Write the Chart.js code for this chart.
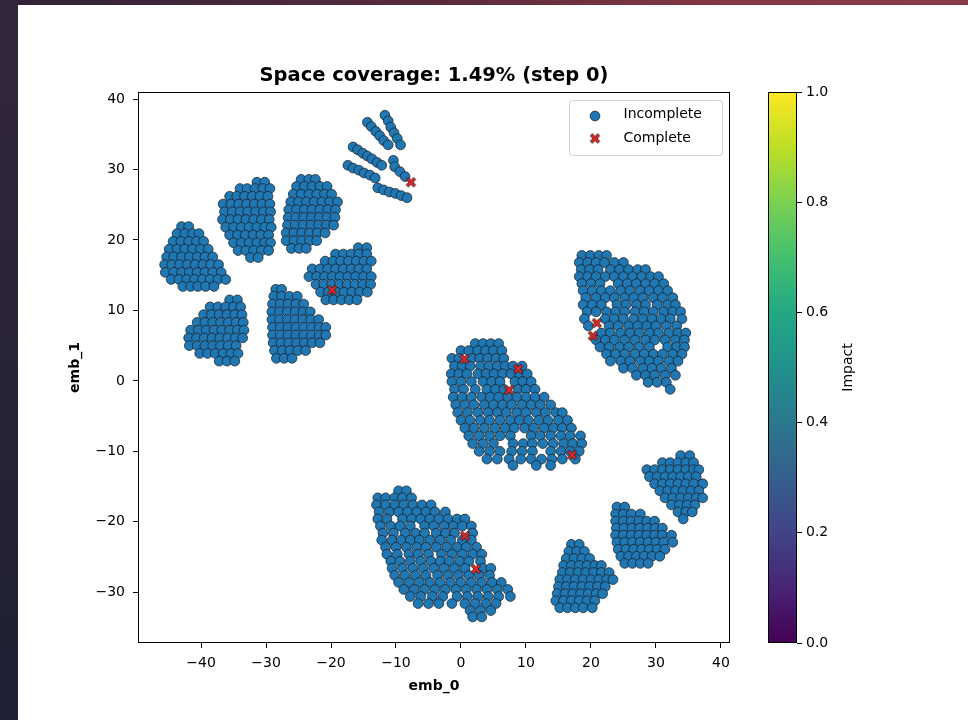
<!DOCTYPE html>
<html>
<head>
<meta charset="utf-8">
<script src="https://cdn.jsdelivr.net/npm/chart.js@4.4.1/dist/chart.umd.min.js"></script>
<style>
  html, body { margin: 0; padding: 0; background: #fff; }
  #page { position: relative; width: 968px; height: 720px; overflow: hidden; background: #fff; }
  #topbar { position: absolute; left: 0; top: 0; width: 968px; height: 5px;
    background: linear-gradient(to right, #2e2337, #5a2b3d 45%, #843744 75%, #8a3a47); }
  #leftbar { position: absolute; left: 0; top: 0; width: 18px; height: 720px;
    background: linear-gradient(to bottom, #33263a, #1e2033); }
  #main { position: absolute; left: 0; top: 0; }
  #cbar { position: absolute; left: 740px; top: 0; }
</style>
</head>
<body>
<div id="page">
  <canvas id="main" width="968" height="720"></canvas>
  <canvas id="cbar" width="228" height="720"></canvas>
  <div id="topbar"></div>
  <div id="leftbar"></div>
</div>
<script>
// --- data (emb_0, emb_1) ---
// clusters given as rows: [emb_1, [emb_0 values ...]]
const clusterA = [
  [21.9, [-43.0, -41.9]],
  [20.9, [-43.7, -42.5, -41.3, -40.3]],
  [19.8, [-44.3, -43.1, -41.9, -40.7, -39.6]],
  [18.7, [-44.9, -43.7, -42.5, -41.3, -40.1, -38.9]],
  [17.6, [-45.3, -44.2, -43.0, -41.8, -40.6, -39.4, -38.2]],
  [16.5, [-45.6, -44.5, -43.3, -42.1, -40.9, -39.7, -38.5, -37.3]],
  [15.4, [-45.5, -44.2, -43.0, -41.8, -40.6, -39.4, -38.2, -36.9]],
  [14.4, [-44.6, -43.4, -42.2, -41.0, -39.8, -38.6, -37.4, -36.2]],
  [13.4, [-42.8, -41.6, -40.5, -39.3, -38.0]],
];
const clusterB = [
  [28.2, [-31.4, -30.2]],
  [27.3, [-34.0, -32.9, -31.7, -30.5, -29.4]],
  [26.2, [-35.6, -34.5, -33.3, -32.1, -30.9, -29.7]],
  [25.1, [-36.6, -35.4, -34.2, -33.0, -31.8, -30.6, -29.4]],
  [24.0, [-36.4, -35.2, -34.0, -32.8, -31.6, -30.4, -29.3]],
  [22.9, [-36.7, -35.5, -34.3, -33.1, -31.9, -30.7, -29.5]],
  [21.8, [-36.2, -35.0, -33.8, -32.6, -31.4, -30.2, -29.2]],
  [20.7, [-35.6, -34.4, -33.2, -32.0, -30.8, -29.6]],
  [19.6, [-35.0, -33.8, -32.6, -31.4, -30.2, -29.3]],
  [18.5, [-34.3, -33.1, -31.9, -30.7, -29.6]],
  [17.5, [-32.4, -31.2]],
];
const clusterC = [
  [28.6, [-24.6, -23.4, -22.4]],
  [27.6, [-25.3, -24.1, -22.9, -21.7, -20.6]],
  [26.5, [-25.8, -24.6, -23.4, -22.2, -21.0, -19.9]],
  [25.4, [-26.2, -25.0, -23.8, -22.6, -21.4, -20.2, -19.0]],
  [24.3, [-26.5, -25.3, -24.1, -22.9, -21.7, -20.5, -19.3]],
  [23.2, [-26.6, -25.4, -24.2, -23.0, -21.8, -20.6, -19.4]],
  [22.1, [-26.7, -25.5, -24.3, -23.1, -21.9, -20.7, -19.6]],
  [21.0, [-26.9, -25.7, -24.5, -23.3, -22.1, -20.9]],
  [19.9, [-26.9, -25.7, -24.5, -23.3, -22.2]],
  [18.8, [-26.1, -24.9, -23.8]],
];
const clusterE = [
  [18.9, [-15.8, -14.5]],
  [18.0, [-19.3, -18.1, -16.9, -15.7, -14.5]],
  [17.0, [-20.9, -19.7, -18.5, -17.3, -16.1, -14.9, -13.8]],
  [15.9, [-22.9, -21.7, -20.5, -19.3, -18.1, -16.9, -15.7, -14.5]],
  [14.8, [-23.4, -22.2, -21.0, -19.8, -18.6, -17.4, -16.2, -15.0, -13.8]],
  [13.7, [-22.3, -21.1, -19.9, -18.7, -17.5, -16.3, -15.1, -13.9]],
  [12.6, [-21.6, -20.4, -19.2, -18.0, -16.8, -15.6, -14.4]],
  [11.5, [-20.8, -19.6, -18.4, -17.2, -16.0]],
];
const clusterF = [
  [11.5, [-35.6, -34.4]],
  [10.5, [-38.6, -37.4, -36.2, -35.0, -33.9]],
  [9.4, [-39.6, -38.4, -37.2, -36.0, -34.8, -33.7]],
  [8.3, [-40.6, -39.4, -38.2, -37.0, -35.8, -34.6, -33.5]],
  [7.2, [-41.6, -40.4, -39.2, -38.0, -36.8, -35.6, -34.4, -33.4]],
  [6.1, [-41.9, -40.7, -39.5, -38.3, -37.1, -35.9, -34.7, -33.6]],
  [5.0, [-41.8, -40.6, -39.4, -38.2, -37.0, -35.8, -34.6]],
  [3.9, [-40.2, -39.0, -37.8, -36.6, -35.4, -34.3]],
  [2.8, [-37.2, -36.0, -34.8]],
];
const clusterG = [
  [13.0, [-28.5, -27.6]],
  [12.0, [-28.8, -27.6, -26.4, -25.2]],
  [10.9, [-29.0, -27.8, -26.6, -25.4, -24.2]],
  [9.8, [-29.1, -27.9, -26.7, -25.5, -24.3, -23.2]],
  [8.7, [-29.1, -27.9, -26.7, -25.5, -24.3, -23.1, -21.9]],
  [7.6, [-29.0, -27.8, -26.6, -25.4, -24.2, -23.0, -21.8, -20.8]],
  [6.5, [-29.0, -27.8, -26.6, -25.4, -24.2, -23.0, -21.8, -20.8]],
  [5.4, [-28.9, -27.7, -26.5, -25.3, -24.1, -22.9, -21.7]],
  [4.3, [-28.7, -27.5, -26.3, -25.1, -23.9]],
  [3.2, [-28.4, -27.2, -26.0]],
];
const clusterH = [
  [5.3, [2.2, 3.4, 4.6, 5.8]],
  [4.3, [0.0, 1.2, 2.6, 3.8, 5.0, 6.3]],
  [3.2, [-1.4, -0.3, 1.7, 2.9, 4.1, 5.4, 6.6]],
  [2.1, [-1.0, 0.2, 1.4, 3.0, 4.3, 5.6, 6.8, 8.0, 9.4]],
  [1.0, [-1.5, -0.3, 0.9, 2.6, 3.9, 5.1, 6.4, 7.7, 9.0, 10.2]],
  [-0.1, [-1.4, 0.0, 1.6, 3.4, 4.7, 6.0, 8.3, 9.5, 10.8]],
  [-1.2, [-1.0, 0.4, 2.2, 4.0, 5.3, 6.6, 8.8, 10.0, 11.4]],
  [-2.3, [-1.2, 0.2, 1.6, 3.2, 4.5, 5.8, 7.2, 8.6, 10.0, 11.4, 12.8]],
  [-3.4, [-0.8, 0.6, 2.0, 3.6, 5.0, 6.4, 7.8, 9.4, 10.8, 12.2, 13.8]],
  [-4.5, [-0.5, 1.0, 2.6, 4.2, 5.6, 7.0, 8.6, 10.0, 11.6, 13.0, 14.6, 15.6]],
  [-5.6, [0.0, 1.4, 3.0, 4.4, 6.0, 7.6, 9.0, 10.4, 12.0, 13.4, 15.0, 16.4]],
  [-6.7, [0.6, 2.0, 3.6, 5.2, 6.8, 8.2, 9.8, 11.2, 12.8, 14.2, 15.6, 17.0]],
  [-7.8, [1.2, 2.8, 4.4, 6.0, 7.6, 10.8, 12.2, 13.8, 15.4, 16.8, 18.4]],
  [-8.9, [1.8, 3.4, 5.0, 8.0, 9.6, 11.0, 12.6, 14.2, 15.8, 17.2, 18.6]],
  [-10.0, [2.8, 4.4, 6.0, 7.8, 9.4, 11.0, 13.8, 15.4, 16.8, 18.2]],
  [-11.1, [4.0, 5.6, 7.4, 9.2, 10.8, 12.4, 14.0, 15.6, 17.6]],
  [-12.0, [8.0, 11.6, 13.8]],
];
const clusterI = [
  [17.8, [18.6, 19.9, 21.2, 22.4]],
  [16.8, [18.2, 19.5, 20.8, 22.1, 23.6, 25.0]],
  [15.8, [18.5, 19.8, 21.1, 23.0, 24.4, 25.8, 27.2, 28.4]],
  [14.8, [18.2, 19.5, 20.8, 22.2, 23.6, 25.0, 26.4, 27.8, 29.2, 30.4]],
  [13.8, [18.6, 20.0, 21.4, 24.2, 25.6, 27.0, 28.4, 29.8, 31.2]],
  [12.8, [18.8, 20.2, 21.6, 23.0, 24.6, 26.0, 27.6, 29.0, 30.4, 31.8]],
  [11.8, [19.2, 20.8, 22.2, 23.6, 25.2, 26.6, 28.0, 29.6, 31.0, 32.6]],
  [10.8, [18.8, 20.2, 21.6, 24.0, 25.4, 27.0, 28.4, 30.2, 31.8, 33.0]],
  [9.8, [19.4, 20.8, 22.4, 23.8, 25.2, 26.8, 28.2, 29.6, 31.2, 32.6, 33.8]],
  [8.8, [19.0, 22.2, 23.6, 25.0, 26.6, 28.0, 29.4, 30.8, 32.2, 34.0]],
  [7.8, [19.6, 22.8, 24.2, 25.8, 27.2, 28.6, 30.0, 31.6, 33.2]],
  [6.8, [21.6, 23.0, 24.6, 26.0, 27.4, 29.0, 30.4, 32.0, 33.4, 34.6]],
  [5.8, [20.8, 22.2, 23.6, 25.2, 26.8, 28.4, 29.8, 31.4, 33.0, 34.4]],
  [4.8, [21.4, 22.8, 24.4, 25.8, 27.4, 29.0, 31.8, 33.2, 34.4]],
  [3.8, [22.4, 23.8, 25.2, 26.8, 28.2, 29.6, 31.0, 32.6, 34.0]],
  [2.8, [23.0, 24.6, 26.0, 27.6, 29.0, 30.4, 32.0, 33.4]],
  [1.8, [25.0, 26.4, 28.0, 29.4, 30.8, 32.4]],
  [0.8, [27.0, 28.4, 29.8, 31.4, 33.0]],
  [-0.2, [28.8, 30.2, 31.6]],
  [-1.2, [32.2]],
];
const clusterJ = [
  [-15.6, [-9.6, -8.4]],
  [-16.6, [-12.8, -11.6, -10.2, -9.0, -7.6]],
  [-17.6, [-13.0, -11.6, -10.2, -8.8, -7.4, -6.0, -4.6]],
  [-18.6, [-12.6, -11.0, -9.6, -8.2, -6.8, -5.4, -4.0, -2.4]],
  [-19.6, [-12.8, -11.4, -9.0, -7.6, -6.2, -4.8, -3.4, -2.0, -0.6, 0.6]],
  [-20.6, [-12.4, -10.8, -9.4, -7.8, -5.6, -4.2, -2.6, -1.2, 0.2, 1.6]],
  [-21.6, [-12.0, -10.4, -8.6, -7.0, -5.6, -3.8, -2.4, -1.0, 1.8]],
  [-22.6, [-12.2, -10.6, -9.2, -7.8, -6.4, -4.8, -3.2, -1.6, 0.2, 1.6]],
  [-23.6, [-11.6, -10.0, -8.4, -6.8, -5.4, -3.8, -2.2, -0.6, 0.8, 2.4]],
  [-24.6, [-11.4, -9.8, -8.0, -6.6, -5.0, -3.0, -1.4, 0.2, 1.8, 3.2]],
  [-25.6, [-10.8, -9.4, -7.8, -6.2, -4.6, -3.2, -1.8, -0.2, 1.2, 3.0]],
  [-26.6, [-10.6, -9.0, -7.4, -5.8, -4.2, -2.6, -1.0, 0.6, 3.4, 4.6]],
  [-27.6, [-10.2, -8.6, -7.0, -5.4, -3.6, -2.0, -0.4, 1.2, 2.8, 4.4]],
  [-28.6, [-9.6, -8.0, -6.4, -4.8, -3.2, -1.6, 0.0, 1.6, 3.2, 4.8, 6.2]],
  [-29.6, [-8.8, -7.2, -5.6, -4.0, -2.4, -0.8, 0.8, 2.4, 4.0, 5.6, 7.2]],
  [-30.6, [-7.8, -6.2, -4.4, -2.8, -0.6, 1.0, 2.6, 4.2, 5.8, 7.6]],
  [-31.6, [-6.6, -5.0, -3.4, -1.4, 0.6, 2.2, 3.8, 5.4]],
  [-32.6, [1.4, 3.0, 4.6]],
  [-33.5, [1.8, 3.2]],
];
const clusterK = [
  [-23.2, [17.0, 18.2]],
  [-24.2, [16.6, 17.8, 19.0]],
  [-25.2, [16.2, 17.4, 18.6, 19.8]],
  [-26.2, [15.8, 17.0, 18.2, 19.4, 20.6, 21.6]],
  [-27.2, [15.6, 16.8, 18.0, 19.2, 20.4, 21.6, 22.8]],
  [-28.2, [15.2, 16.4, 17.6, 18.8, 20.0, 21.2, 22.4, 23.4]],
  [-29.2, [15.0, 16.2, 17.4, 18.6, 19.8, 21.0, 22.2]],
  [-30.2, [14.8, 16.0, 17.2, 18.4, 19.6, 20.8, 21.8]],
  [-31.2, [14.6, 15.8, 17.0, 18.2, 19.4, 20.6]],
  [-32.2, [15.2, 16.4, 17.6, 18.8, 20.2]],
];
const clusterL = [
  [-17.9, [24.0, 25.2]],
  [-18.9, [23.8, 25.0, 26.2, 27.6]],
  [-19.9, [23.8, 25.0, 26.2, 27.4, 28.6, 29.8]],
  [-20.9, [23.9, 25.1, 26.3, 27.5, 28.7, 29.9, 31.0]],
  [-21.9, [23.8, 25.0, 26.2, 27.4, 28.6, 29.8, 31.0, 32.4]],
  [-22.9, [24.0, 25.2, 26.4, 27.6, 28.8, 30.0, 31.2, 32.6]],
  [-23.9, [24.2, 25.4, 26.6, 27.8, 29.0, 30.2, 31.4]],
  [-24.9, [24.6, 25.8, 27.0, 28.2, 29.4, 30.6]],
  [-25.9, [25.2, 26.4, 27.6, 28.8]],
];
const clusterM = [
  [-10.6, [33.8, 35.2]],
  [-11.6, [31.0, 32.2, 33.4, 34.6, 35.8]],
  [-12.6, [28.6, 29.8, 31.0, 32.2, 33.4, 34.6, 35.8, 36.6]],
  [-13.6, [29.0, 30.2, 31.4, 32.6, 33.8, 35.0, 36.2]],
  [-14.6, [29.8, 31.0, 32.2, 33.4, 34.6, 35.8, 37.2]],
  [-15.6, [30.6, 31.8, 33.0, 34.2, 35.4, 36.6]],
  [-16.6, [31.4, 32.6, 33.8, 35.0, 36.2, 37.2]],
  [-17.6, [32.4, 33.6, 34.8, 36.0]],
  [-18.6, [33.4, 34.6, 35.6]],
  [-19.6, [34.2]],
];
// the thin streaks near the top, as [emb_0, emb_1]
const streaks = [
  [-11.7, 37.7], [-11.2, 36.9], [-10.8, 36.0], [-10.3, 35.2], [-9.8, 34.4], [-9.3, 33.5],
  [-14.4, 36.7], [-13.8, 36.1], [-13.1, 35.4], [-12.5, 34.8], [-11.9, 34.1], [-11.2, 33.5],
  [-16.6, 33.2], [-15.9, 32.8], [-15.1, 32.3], [-14.4, 31.9], [-13.7, 31.5], [-12.9, 31.0], [-12.2, 30.6],
  [-17.4, 30.6], [-16.6, 30.2], [-15.7, 29.9], [-14.9, 29.5], [-14.0, 29.2], [-13.2, 28.8],
  [-12.8, 27.4], [-11.9, 27.1], [-11.0, 26.8], [-10.1, 26.6], [-9.2, 26.3], [-8.3, 26.0],
  [-10.4, 31.3], [-10.2, 30.4], [-9.4, 29.7], [-8.6, 29.0],
];
const completePoints = [
  [-7.7, 28.2], [-19.8, 12.9], [0.5, 3.1], [8.8, 1.7], [7.4, -1.3],
  [17.1, -10.5], [20.9, 8.2], [20.3, 6.4], [0.6, -22.0], [2.3, -26.7],
];

const xTickValues = [-40, -30, -20, -10, 0, 10, 20, 30, 40];
const yTickValues = [-30, -20, -10, 0, 10, 20, 30, 40];
const impactTicks = [0, 0.2, 0.4, 0.6, 0.8, 1.0];
const viridisStops = ["#440154", "#482475", "#414487", "#355f8d", "#2a788e",
  "#21918c", "#22a884", "#44bf70", "#7ad151", "#bddf26", "#fde725"];

const FONT = "DejaVu Sans";
const BLUE = "#1f77b4";
const RED = "#d62728";
const EDGE = "#1a1a1a";

const rowsToPoints = (rows) => rows.flatMap(([y, xs]) => xs.map((x) => ({ x, y })));
const incomplete = [
  clusterA, clusterB, clusterC, clusterE, clusterF, clusterG,
  clusterH, clusterI, clusterJ, clusterK, clusterL, clusterM,
].flatMap(rowsToPoints).concat(streaks.map(([x, y]) => ({ x, y })));
const complete = completePoints.map(([x, y]) => ({ x, y }));

const minus = (v) => String(v).replace("-", "\u2212");

// filled "X" marker like matplotlib's
function makeXMarker() {
  const c = document.createElement("canvas");
  c.width = 14;
  c.height = 14;
  const g = c.getContext("2d");
  const e = 5.3, w = 1.55;
  g.translate(7, 7);
  g.rotate(Math.PI / 4);
  g.beginPath();
  const pts = [[w, e], [w, w], [e, w], [e, -w], [w, -w], [w, -e],
    [-w, -e], [-w, -w], [-e, -w], [-e, w], [-w, w], [-w, e]];
  pts.forEach(([px, py], i) => (i ? g.lineTo(px, py) : g.moveTo(px, py)));
  g.closePath();
  g.fillStyle = RED;
  g.fill();
  g.lineWidth = 0.7;
  g.strokeStyle = EDGE;
  g.stroke();
  return c;
}
const xMarker = makeXMarker();

const framePlugin = {
  id: "frame",
  afterDraw(chart) {
    const { ctx, chartArea: a } = chart;
    ctx.save();
    ctx.strokeStyle = "#000";
    ctx.lineWidth = 1;
    ctx.strokeRect(Math.round(a.left) + 0.5, Math.round(a.top) + 0.5,
      Math.round(a.right - a.left) - 1, Math.round(a.bottom - a.top) - 1);
    ctx.restore();
  },
};

const legendPlugin = {
  id: "boxLegend",
  afterDraw(chart) {
    const { ctx, chartArea: a } = chart;
    const w = 153, h = 55;
    const x0 = a.right - 7.5 - w, y0 = a.top + 8.5;
    ctx.save();
    ctx.beginPath();
    ctx.roundRect(x0, y0, w, h, 3);
    ctx.fillStyle = "rgba(255,255,255,0.8)";
    ctx.fill();
    ctx.strokeStyle = "#d0d0d0";
    ctx.lineWidth = 1;
    ctx.stroke();
    const mx = x0 + 25.5;
    ctx.beginPath();
    ctx.arc(mx, y0 + 15.5, 4.9, 0, Math.PI * 2);
    ctx.fillStyle = BLUE;
    ctx.fill();
    ctx.lineWidth = 0.7;
    ctx.strokeStyle = EDGE;
    ctx.stroke();
    ctx.drawImage(xMarker, mx - 7, y0 + 38 - 7);
    ctx.fillStyle = "#000";
    ctx.font = "14px '" + FONT + "'";
    ctx.textBaseline = "middle";
    ctx.fillText("Incomplete", x0 + 54, y0 + 14);
    ctx.fillText("Complete", x0 + 54, y0 + 38);
    ctx.restore();
  },
};

const tickFont = { family: FONT, size: 14 };
const labelFont = { family: FONT, size: 14, weight: "bold" };
const axisGrid = {
  display: true, drawOnChartArea: false, drawTicks: true,
  tickLength: 5, color: "#000", tickColor: "#000", tickWidth: 1,
};

new Chart(document.getElementById("main"), {
  type: "scatter",
  data: {
    datasets: [
      {
        label: "Complete",
        data: complete,
        order: 0,
        pointStyle: xMarker,
        pointRadius: 5,
      },
      {
        label: "Incomplete",
        data: incomplete,
        order: 1,
        pointStyle: "circle",
        pointRadius: 4.9,
        backgroundColor: BLUE,
        borderColor: EDGE,
        borderWidth: 0.7,
      },
    ],
  },
  options: {
    responsive: false,
    animation: false,
    devicePixelRatio: 1,
    layout: { padding: { left: 50, top: 50, right: 238, bottom: 20 } },
    scales: {
      x: {
        type: "linear",
        min: -49.7,
        max: 41.4,
        afterBuildTicks: (s) => { s.ticks = xTickValues.map((v) => ({ value: v })); },
        afterFit: (s) => { s.height = 57; },
        grid: axisGrid,
        border: { display: false },
        ticks: { color: "#000", font: tickFont, padding: 7, maxRotation: 0, autoSkip: false,
          callback: (v) => minus(v) },
        title: { display: true, text: "emb_0", color: "#000", font: labelFont,
          padding: { top: 0, bottom: 5 } },
      },
      y: {
        type: "linear",
        min: -37.2,
        max: 41.0,
        afterBuildTicks: (s) => { s.ticks = yTickValues.map((v) => ({ value: v })); },
        afterFit: (s) => { s.width = 88; },
        grid: axisGrid,
        border: { display: false },
        ticks: { color: "#000", font: tickFont, padding: 8, autoSkip: false,
          callback: (v) => minus(v) },
        title: { display: true, text: "emb_1", color: "#000", font: labelFont,
          padding: { top: 17, bottom: 0 } },
      },
    },
    plugins: {
      legend: { display: false },
      tooltip: { enabled: false },
      title: {
        display: true,
        fullSize: false,
        text: "Space coverage: 1.49% (step 0)",
        color: "#000",
        font: { family: FONT, size: 19.5, weight: "bold" },
        padding: { top: 14.4, bottom: 4.2 },
      },
    },
  },
  plugins: [framePlugin, legendPlugin],
});

// colorbar
const cbarFrame = {
  id: "cbarFrame",
  afterDraw(chart) {
    const { ctx, chartArea: a } = chart;
    ctx.save();
    ctx.strokeStyle = "#000";
    ctx.lineWidth = 1;
    ctx.strokeRect(Math.round(a.left) + 0.5, Math.round(a.top) + 0.5,
      Math.round(a.right - a.left) - 1, Math.round(a.bottom - a.top) - 1);
    ctx.translate(a.right + 51, (a.top + a.bottom) / 2);
    ctx.rotate(-Math.PI / 2);
    ctx.fillStyle = "#000";
    ctx.font = "14px '" + FONT + "'";
    ctx.textAlign = "center";
    ctx.textBaseline = "middle";
    ctx.fillText("Impact", 0, 0);
    ctx.restore();
  },
};

new Chart(document.getElementById("cbar"), {
  type: "bar",
  data: {
    labels: ["Impact"],
    datasets: [
      {
        data: [1],
        borderWidth: 0,
        barPercentage: 1,
        categoryPercentage: 1,
        backgroundColor: (context) => {
          const { ctx, chartArea } = context.chart;
          if (!chartArea) return viridisStops[5];
          const grad = ctx.createLinearGradient(0, chartArea.bottom, 0, chartArea.top);
          viridisStops.forEach((c, i) => grad.addColorStop(i / (viridisStops.length - 1), c));
          return grad;
        },
      },
    ],
  },
  options: {
    responsive: false,
    animation: false,
    devicePixelRatio: 1,
    layout: { padding: { left: 28, top: 92, right: 91, bottom: 77 } },
    scales: {
      x: { display: false },
      y: {
        position: "right",
        min: 0,
        max: 1,
        afterBuildTicks: (s) => { s.ticks = impactTicks.map((v) => ({ value: v })); },
        afterFit: (s) => { s.width = 80; },
        grid: axisGrid,
        border: { display: false },
        ticks: { color: "#000", font: tickFont, padding: 4, callback: (v) => v.toFixed(1) },
      },
    },
    plugins: { legend: { display: false }, tooltip: { enabled: false } },
  },
  plugins: [cbarFrame],
});
</script>
</body>
</html>
